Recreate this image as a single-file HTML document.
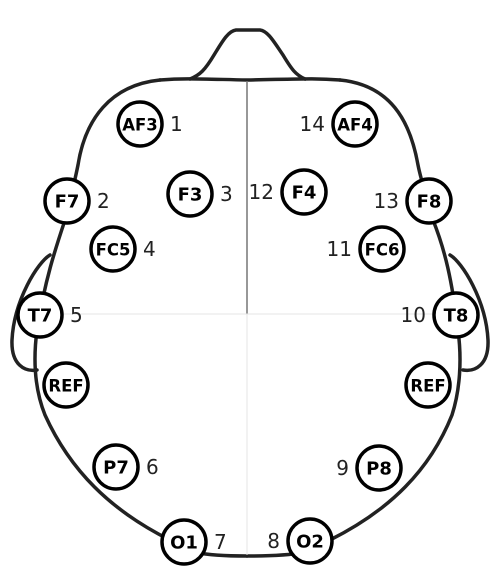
<!DOCTYPE html>
<html><head><meta charset="utf-8"><style>
html,body{margin:0;padding:0;background:#fff;}
svg{display:block;}
</style></head><body>
<svg id="c" width="500" height="587" viewBox="0 0 500 587" xmlns="http://www.w3.org/2000/svg">
  <g fill="none" stroke="#222" stroke-width="3.5" stroke-linecap="round">
    <path d="M190,79 C200,75 205,70 214,55 C222,42 228,31 236,30 L260,30 C268,31 274,42 283,55 C292,70 296,75 305,79"/>
    <path d="M160,80 C185,78 200,79 247,80 C300,79 315,78 340,80"/>
    <path d="M160,80 C110,85 85,120 78,165 C74,185 70,200 65,220 C55,250 45,280 37,330 C33,360 35,390 45,415 C70,470 110,510 170,540 C185,552 200,556 247,556"/>
    <path d="M340,80 C390,85 410,120 418,165 C422,185 428,200 433,220 C445,250 452,280 458,330 C462,360 460,390 452,415 C430,470 390,510 330,540 C315,552 300,556 247,556"/>
    <path d="M50,255 C38,262 14,300 12,340 C11,365 25,372 37,370"/>
    <path d="M450,255 C462,262 486,300 488,340 C489,365 475,372 463,370"/>
  </g>
  <line x1="247" y1="81" x2="247" y2="314" stroke="#777" stroke-width="1.5"/>
  <line x1="247" y1="314" x2="247" y2="555" stroke="#e4e4e4" stroke-width="1"/>
  <line x1="60" y1="314" x2="440" y2="314" stroke="#e4e4e4" stroke-width="1"/>
  <g id="nodes"></g>
</svg>
<script>
const labels=["AF3","F7","F3","FC5","T7","REF","P7","O1","O2","P8","REF","T8","FC6","F8","F4","AF4"];
const cx=[140,67,190,113,40,66,116,184,310,379,428,456,382,429,304,355];
const cy=[124,201,194,249,315,385,467,542,541,468,385,315,249,201,192,124];
const nums=["1","2","3","4","5","","6","7","8","9","","10","11","13","12","14"];
const numSide=[1,1,1,1,1,0,1,1,-1,-1,0,-1,-1,-1,-1,-1];
const g=document.getElementById('nodes');
const NS="http://www.w3.org/2000/svg";
for(let i=0;i<labels.length;i++){
  const grp=document.createElementNS(NS,'g');
  
  
  const c=document.createElementNS(NS,'circle');
  
  
  c.setAttribute('cx',cx[i]);c.setAttribute('cy',cy[i]);c.setAttribute('r',22);
  c.setAttribute('fill','#fff');c.setAttribute('stroke','#000');c.setAttribute('stroke-width','3.5');
  grp.appendChild(c);
  const t=document.createElementNS(NS,'text');
  
  
  t.setAttribute('x',cx[i]);t.setAttribute('y',cy[i]+6.5);
  t.setAttribute('text-anchor','middle');
  t.setAttribute('font-family','"DejaVu Sans","Liberation Sans",sans-serif');
  t.setAttribute('font-weight','bold');
  t.setAttribute('font-size',labels[i].length>2?16.5:18);
  t.textContent=labels[i];
  grp.appendChild(t);
  if(nums[i]){
    const n=document.createElementNS(NS,'text');
    
    
    n.setAttribute('x',cx[i]+numSide[i]*30);n.setAttribute('y',cy[i]+7);
    n.setAttribute('text-anchor',numSide[i]>0?'start':'end');
    n.setAttribute('font-family','"DejaVu Sans","Liberation Sans",sans-serif');
    n.setAttribute('font-size','20');
    n.setAttribute('fill','#222');
    n.textContent=nums[i];
    grp.appendChild(n);
  }
  g.appendChild(grp);
}
</script>
</body></html>
